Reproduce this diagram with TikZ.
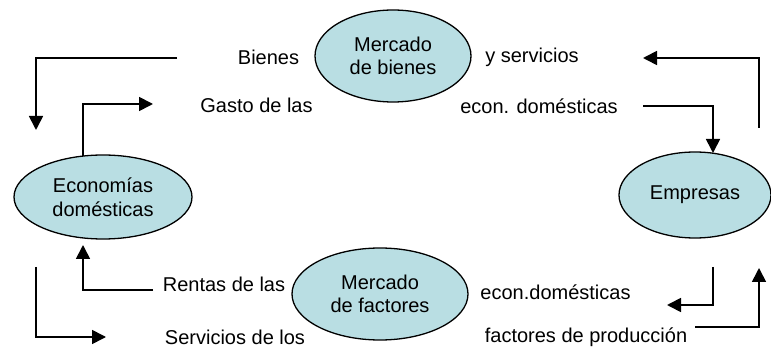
\documentclass[tikz,border=0pt]{standalone}
\usepackage{fontspec}
\setmainfont{Liberation Sans}
\usetikzlibrary{shapes.geometric,arrows.meta}
\definecolor{fillc}{RGB}{185,222,227}
\tikzset{
  mkt/.style={ellipse,draw=black,line width=1.3pt,fill=fillc,inner sep=0pt,align=center,font=\fontsize{20}{23.5}\selectfont},
  lbl/.style={inner sep=0pt,font=\fontsize{20}{24}\selectfont,anchor=center},
  flow/.style={line width=1.7pt,-{Triangle[length=14pt,width=14pt]}},
}
\begin{document}
\begin{tikzpicture}[x=1pt,y=-1pt]
\useasboundingbox (0,0) rectangle (771,347);
% ellipses
\node[mkt,minimum width=156pt,minimum height=92pt] (mb) at (393,56) {Mercado\\de bienes};
\node[mkt,minimum width=178pt,minimum height=84pt] (eco) at (103,197) {Economías\\domésticas};
\node[mkt,minimum width=152pt,minimum height=86pt] (emp) at (695,195) {Empresas};
\node[mkt,minimum width=176pt,minimum height=92pt] (mf) at (380,294) {Mercado\\de factores};
% labels
\node[lbl] (t1) at (268.5,57) {Bienes};
\node[lbl] (t2) at (532,57) {y servicios};
\node[lbl] (t3) at (256.5,105) {Gasto de las};
\node[lbl] (t4) at (539,106) {econ. domésticas};
\node[lbl] (t5) at (224,284) {Rentas de las};
\node[lbl] (t6) at (555.5,292) {econ.domésticas};
\node[lbl] (t7) at (235,337) {Servicios de los};
\node[lbl] (t8) at (586,337) {factores de producción};
% coordinates
\coordinate (a0) at (177,58);
\coordinate (a1) at (36,58);
\coordinate (a2) at (36,130);
\coordinate (b0) at (83,156);
\coordinate (b1) at (83,104);
\coordinate (b2) at (153,104);
\coordinate (c0) at (759,128);
\coordinate (c1) at (759,58);
\coordinate (c2) at (643,58);
\coordinate (d0) at (643,106);
\coordinate (d1) at (713,106);
\coordinate (d2) at (713,153);
\coordinate (e0) at (713,267);
\coordinate (e1) at (713,305);
\coordinate (e2) at (667,305);
\coordinate (f0) at (695,327);
\coordinate (f1) at (759,327);
\coordinate (f2) at (759,268);
\coordinate (g0) at (153,290);
\coordinate (g1) at (83,290);
\coordinate (g2) at (83,245);
\coordinate (h0) at (36,267);
\coordinate (h1) at (36,337);
\coordinate (h2) at (106,337);
% connectors
\draw[flow] (a0) -- (a1) -- (a2);
\draw[flow] (b0) -- (b1) -- (b2);
\draw[flow] (c0) -- (c1) -- (c2);
\draw[flow] (d0) -- (d1) -- (d2);
\draw[flow] (e0) -- (e1) -- (e2);
\draw[flow] (f0) -- (f1) -- (f2);
\draw[flow] (g0) -- (g1) -- (g2);
\draw[flow] (h0) -- (h1) -- (h2);
\end{tikzpicture}
\end{document}
